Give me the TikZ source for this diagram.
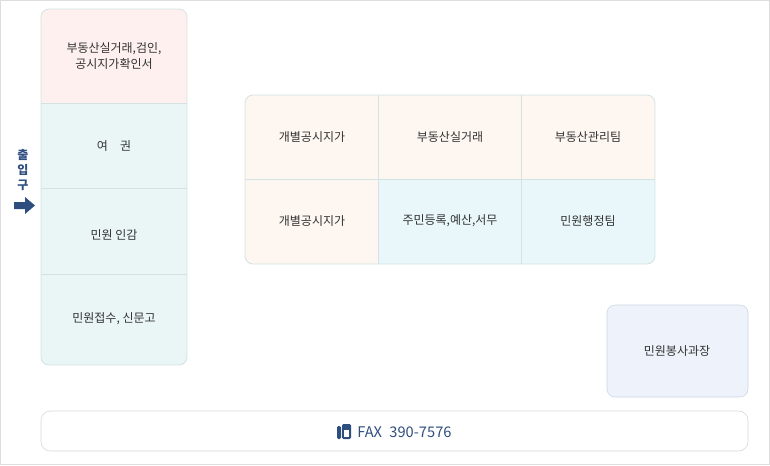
\documentclass[tikz,border=0pt]{standalone}
\usepackage{fontspec}
\setmainfont{Noto Sans CJK KR}
\usetikzlibrary{positioning}
\definecolor{lineg}{HTML}{D3E2E2}
\definecolor{pinkf}{HTML}{FDF0EE}
\definecolor{cyanf}{HTML}{EAF6F6}
\definecolor{peachf}{HTML}{FDF6F1}
\definecolor{bluef}{HTML}{EAF7FA}
\definecolor{lavf}{HTML}{EEF3FB}
\definecolor{txtg}{HTML}{333333}
\definecolor{navy}{HTML}{2F4E80}
\tikzset{
  lbl/.style={text=txtg, font=\fontsize{9}{12}\selectfont, align=center},
  cellbox/.style={draw=lineg, line width=0.6pt}
}
\begin{document}
\begin{tikzpicture}[x=0.75pt,y=0.75pt,yscale=-1,xscale=1]
\useasboundingbox (0,0) rectangle (770,465);
% outer frame
\draw [draw={rgb,255:red,221;green,221;blue,221}] (0.5,0.5) rectangle (769.5,464.5);

% left column
\begin{scope}
\clip [rounded corners=6] (41,9) rectangle (187,365);
\fill [pinkf] (41,9) rectangle (187,103);
\fill [cyanf] (41,103) rectangle (187,365);
\draw [cellbox] (41,103) -- (187,103) (41,188) -- (187,188) (41,274) -- (187,274);
\end{scope}
\draw [cellbox, rounded corners=6] (41,9) rectangle (187,365);

% Text Node
\node [lbl] (c1) at (114,56) {부동산실거래,검인,\\공시지가확인서};
\node [lbl] (c2) at (114,146) {여\quad 권};
\node [lbl] (c3) at (114,235) {민원 인감};
\node [lbl] (c4) at (114,319) {민원접수, 신문고};

% entrance
\node [text=navy, font=\bfseries\fontsize{9}{11}\selectfont, align=center] (ent) at (23,170) {출\\입\\구};
\fill [navy] (14,202) -- (25,202) -- (25,197) -- (35,205.5) -- (25,214) -- (25,209) -- (14,209) -- cycle;

% middle table
\begin{scope}
\clip [rounded corners=6] (245,95) rectangle (655,264);
\fill [peachf] (245,95) rectangle (655,264);
\fill [bluef] (378,179) rectangle (655,264);
\draw [cellbox] (245,179) -- (655,179) (378,95) -- (378,264) (521,95) -- (521,264);
\end{scope}
\draw [cellbox, rounded corners=6] (245,95) rectangle (655,264);

\node [lbl] (t1) at (312,137) {개별공시지가};
\node [lbl] (t2) at (450,137) {부동산실거래};
\node [lbl] (t3) at (588,137) {부동산관리팀};
\node [lbl] (t4) at (312,221) {개별공시지가};
\node [lbl] (t5) at (450,221) {주민등록,예산,서무};
\node [lbl] (t6) at (588,221) {민원행정팀};

% right box
\draw [fill=lavf, draw={rgb,255:red,200;green,212;blue,228}, rounded corners=6] (607,305) rectangle (748,397);
\node [lbl] (r1) at (677,351) {민원봉사과장};

% fax bar
\draw [fill=white, draw={rgb,255:red,210;green,214;blue,220}, rounded corners=7] (41,411) rectangle (748,451);
\node [text=navy, font=\fontsize{11}{13}\selectfont, anchor=west, inner sep=0pt] (fax) at (357,432) {FAX\enspace 390-7576};
% fax icon
\fill [navy, rounded corners=1] (337,426) rectangle (341,439);
\fill [navy, rounded corners=1] (342,424) rectangle (351,439);
\fill [white] (344,430) rectangle (349,437);
\fill [navy] (344,424.5) rectangle (349,428);
\end{tikzpicture}
\end{document}
